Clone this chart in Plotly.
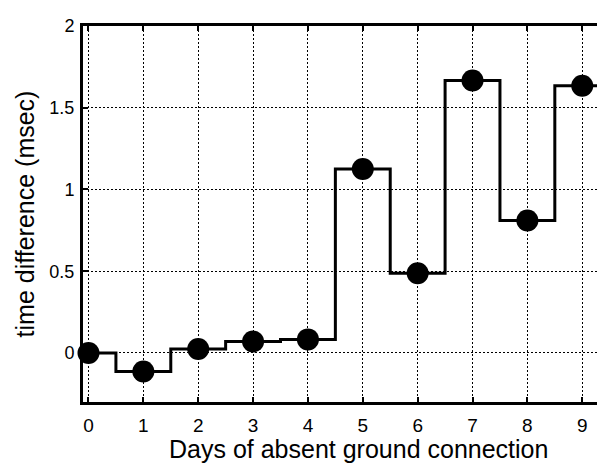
import plotly.graph_objects as go

days = [0, 1, 2, 3, 4, 5, 6, 7, 8, 9]
time_diff = [0.0, -0.113, 0.024, 0.07, 0.083, 1.125, 0.488, 1.667, 0.81, 1.635]
x_ticks = [0, 1, 2, 3, 4, 5, 6, 7, 8, 9]
y_ticks = [0, 0.5, 1, 1.5, 2]
y_tick_labels = ['0', '0.5', '1', '1.5', '2']


def step_series(xs, ys):
    '''
    Step edges half way between the days, the last step runs half a day on.
    '''
    sx = [xs[0]] + [(a + b) / 2 for a, b in zip(xs[:-1], xs[1:])] + [xs[-1] + 0.5]
    sy = list(ys) + [ys[-1]]
    return sx, sy


def main():
    sx, sy = step_series(days, time_diff)
    fig = go.Figure()

    fig.add_trace(go.Scatter(
        x=sx, y=sy,
        mode='lines',
        line=dict(color='black', width=3, shape='hv'),
        cliponaxis=False,
        hoverinfo='skip',
    ))
    fig.add_trace(go.Scatter(
        x=days, y=time_diff,
        mode='markers',
        marker=dict(color='black', size=22),
        cliponaxis=False,
    ))

    axis_common = dict(
        showline=True, linecolor='black', linewidth=3, mirror='ticks',
        ticks='inside', ticklen=5, tickwidth=2, tickcolor='black',
        showgrid=True, gridcolor='black', gridwidth=1, griddash='2px,2px',
        zeroline=False,
    )

    fig.update_layout(
        width=605, height=468,
        margin=dict(l=75, r=8, t=8, b=74),
        plot_bgcolor='white', paper_bgcolor='white',
        showlegend=False,
        font=dict(family='Liberation Sans, Arial', color='black'),
        xaxis=dict(
            range=[-0.1, 9.36],
            tickvals=x_ticks,
            ticklabelstandoff=4,
            tickfont=dict(size=19),
            **axis_common,
        ),
        yaxis=dict(
            range=[-0.3, 2],
            tickvals=y_ticks,
            ticktext=y_tick_labels,
            ticklabelstandoff=2,
            tickfont=dict(size=18),
            **axis_common,
        ),
    )

    # axis titles as annotations, the x title sits right of the plot centre
    fig.add_annotation(
        text='Days of absent ground connection',
        xref='paper', yref='paper', x=0.531, y=-0.124,
        xanchor='center', yanchor='middle', showarrow=False,
        font=dict(size=25),
    )
    fig.add_annotation(
        text='time difference (msec)',
        xref='paper', yref='paper', x=-0.111, y=0.5,
        xanchor='center', yanchor='middle', showarrow=False,
        textangle=-90, font=dict(size=25),
    )

    fig.write_html('out.html')


if __name__ == '__main__':
    main()
